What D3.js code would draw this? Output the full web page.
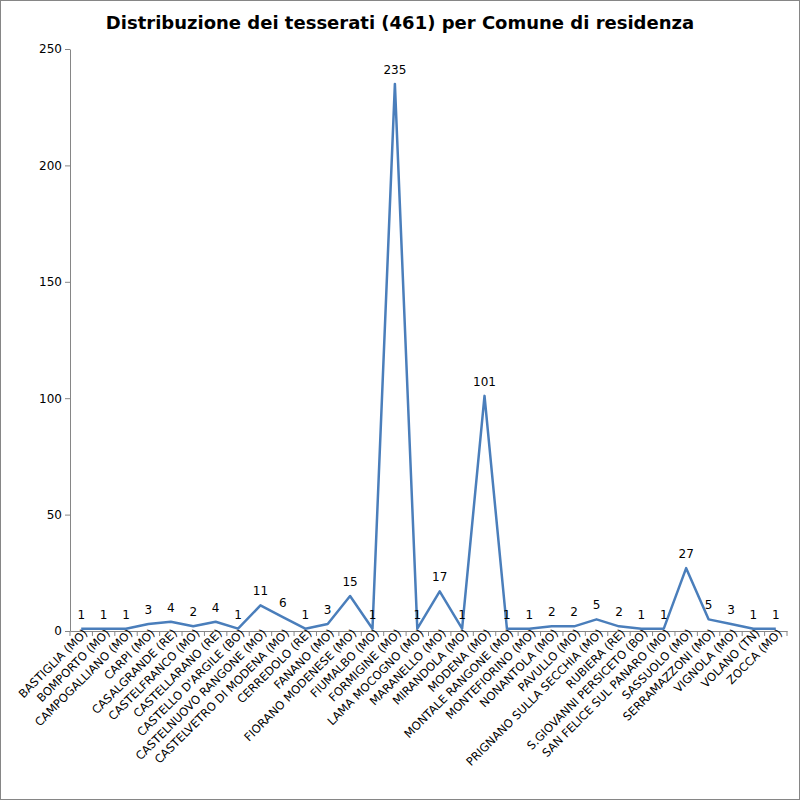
<!DOCTYPE html>
<html><head><meta charset="utf-8">
<script src="https://cdn.jsdelivr.net/npm/d3@7"></script>
<style>body{margin:0;background:#fff}</style></head>
<body><svg id="c" width="800" height="800"></svg>
<script>
const categories=["BASTIGLIA (MO)","BOMPORTO (MO)","CAMPOGALLIANO (MO)","CARPI (MO)","CASALGRANDE (RE)","CASTELFRANCO (MO)","CASTELLARANO (RE)","CASTELLO D'ARGILE (BO)","CASTELNUOVO RANGONE (MO)","CASTELVETRO DI MODENA (MO)","CERREDOLO (RE)","FANANO (MO)","FIORANO MODENESE (MO)","FIUMALBO (MO)","FORMIGINE (MO)","LAMA MOCOGNO (MO)","MARANELLO (MO)","MIRANDOLA (MO)","MODENA (MO)","MONTALE RANGONE (MO)","MONTEFIORINO (MO)","NONANTOLA (MO)","PAVULLO (MO)","PRIGNANO SULLA SECCHIA (MO)","RUBIERA (RE)","S.GIOVANNI PERSICETO (BO)","SAN FELICE SUL PANARO (MO)","SASSUOLO (MO)","SERRAMAZZONI (MO)","VIGNOLA (MO)","VOLANO (TN)","ZOCCA (MO)"];
const values=[1,1,1,3,4,2,4,1,11,6,1,3,15,1,235,1,17,1,101,1,1,2,2,5,2,1,1,27,5,3,1,1];
const yTicks=[0,50,100,150,200,250];
const title="Distribuzione dei tesserati (461) per Comune di residenza";
const svg=d3.select("#c"),F="Verdana, DejaVu Sans, sans-serif";
svg.append("rect").attr("x",0.5).attr("y",0.5).attr("width",799).attr("height",799).attr("fill","#fff").attr("stroke","#868686");
const L=70,R=787,T=49,B=631;
const x=d3.scaleBand().domain(categories).range([L,R]);
const y=d3.scaleLinear().domain([0,250]).range([B,T]);
svg.append("text").attr("x",400).attr("y",29).attr("text-anchor","middle").attr("font-family",F).attr("font-weight","bold").attr("font-size",18).text(title);
const ya=svg.append("g").attr("transform",`translate(${L},0)`).call(d3.axisLeft(y).tickValues(yTicks).tickSize(5).tickSizeOuter(0));
ya.selectAll("text").attr("font-family",F).attr("font-size",12).attr("fill","#000");
ya.selectAll("line,path").attr("stroke","#868686");
const xa=svg.append("g").attr("transform",`translate(0,${B})`).call(d3.axisBottom(x).tickSize(0).tickSizeOuter(0));
xa.select("path").attr("stroke","#868686");
xa.selectAll(".tick text").attr("font-family",F).attr("font-size",11.5).attr("fill","#000").attr("text-anchor","end").attr("dx","3").attr("dy","4").attr("transform","rotate(-45)");
svg.append("g").selectAll("line").data(categories.concat(["_"])).join("line")
 .attr("x1",(d,i)=>L+i*x.step()).attr("x2",(d,i)=>L+i*x.step()).attr("y1",B).attr("y2",B+5).attr("stroke","#868686");
const cx=d=>x(d)+x.bandwidth()/2;
svg.append("path").datum(values).attr("fill","none").attr("stroke","#4a7ebb").attr("stroke-width",2.5).attr("stroke-linejoin","round")
 .attr("d",d3.line().x((d,i)=>cx(categories[i])).y(d=>y(d)));
svg.append("g").selectAll("text").data(values).join("text").attr("x",(d,i)=>cx(categories[i])).attr("y",d=>y(d)-10)
 .attr("text-anchor","middle").attr("font-family",F).attr("font-size",12).text(d=>d);
</script></body></html>
